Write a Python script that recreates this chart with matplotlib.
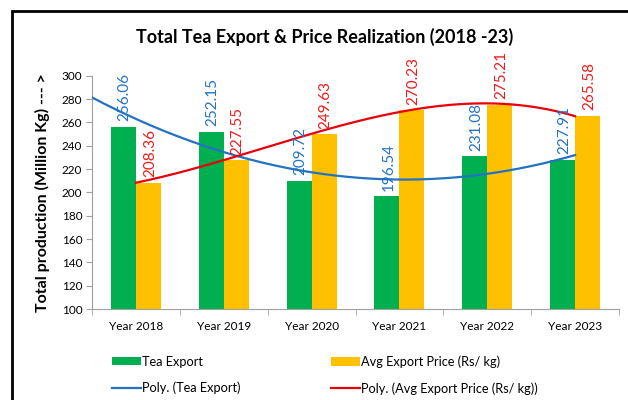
import matplotlib
matplotlib.use('Agg')
import matplotlib.pyplot as plt
from matplotlib.patches import Rectangle
import numpy as np

plt.rcParams['font.family'] = ['Lato', 'DejaVu Sans']

# 数据
years = ['Year 2018', 'Year 2019', 'Year 2020', 'Year 2021', 'Year 2022', 'Year 2023']
tea_export = [256.06, 252.15, 209.72, 196.54, 231.08, 227.91]
avg_price = [208.36, 227.55, 249.63, 270.23, 275.21, 265.58]
y_ticks = [100, 120, 140, 160, 180, 200, 220, 240, 260, 280, 300]

GREEN = '#00B050'
YELLOW = '#FFC000'
BLUE_LINE = '#2273C3'
RED_LINE = '#E8000B'
BLUE_TXT = '#2373C4'
RED_TXT = '#F01A1A'

fig = plt.figure(figsize=(6.28, 4.0), dpi=100)
ax = fig.add_axes([92 / 628, 1 - 309 / 400, (619 - 92) / 628, (309 - 75.7) / 400])

x = np.arange(len(years))
w = 0.285
bars_tea = ax.bar(x - w / 2, tea_export, w, color=GREEN, label='Tea Export', zorder=2)
bars_avg = ax.bar(x + w / 2, avg_price, w, color=YELLOW, label='Avg Export Price (Rs/ kg)', zorder=2)

# 趋势线 (Excel 多项式趋势线)
xn = x + 1
p_tea = np.polyfit(xn, tea_export, 2)
p_avg = np.polyfit(xn, avg_price, 3)
xt = np.linspace(0.5, 6, 200)
xa = np.linspace(1, 6, 200)
line_tea, = ax.plot(xt - 1, np.polyval(p_tea, xt), color=BLUE_LINE, lw=1.6, zorder=3,
                    label='Poly. (Tea Export)')
line_avg, = ax.plot(xa - 1, np.polyval(p_avg, xa), color=RED_LINE, lw=1.6, zorder=3,
                    label='Poly. (Avg Export Price (Rs/ kg))')

# 数据标签
for xi, v in zip(x - w / 2, tea_export):
    ax.annotate(f'{v:.2f}', xy=(xi, v), xytext=(1, 4), textcoords='offset points',
                rotation=90, ha='center', va='bottom', color=BLUE_TXT, fontsize=11, zorder=4)
for xi, v in zip(x + w / 2, avg_price):
    ax.annotate(f'{v:.2f}', xy=(xi, v), xytext=(1, 4), textcoords='offset points',
                rotation=90, ha='center', va='bottom', color=RED_TXT, fontsize=11, zorder=4)

ax.set_xlim(-0.5, len(years) - 0.5)
ax.set_ylim(100, 300)
ax.set_yticks(y_ticks)
ax.tick_params(axis='y', labelsize=8.5, length=4, color='#A0A0A0', pad=3)
ax.set_xticks(x)
ax.set_xticklabels(years, fontsize=8.5)
ax.tick_params(axis='x', length=0, pad=9)
ax.set_xticks(np.arange(len(years) + 1) - 0.5, minor=True)
ax.tick_params(axis='x', which='minor', length=4, color='#A0A0A0')

for s in ['top', 'right']:
    ax.spines[s].set_visible(False)
for s in ['left', 'bottom']:
    ax.spines[s].set_color('#A0A0A0')
    ax.spines[s].set_linewidth(0.8)

ax.set_ylabel('Total production (Million Kg) --- >', fontsize=11.5, fontweight='bold')
ax.yaxis.set_label_coords(-0.08, 0.5)

fig.text(325 / 628, 1 - 37 / 400, 'Total Tea Export & Price Realization (2018 -23)',
         ha='center', va='center', fontsize=13, fontweight='bold')

# 图例
leg1 = fig.legend(handles=[bars_tea, line_tea], loc='upper left',
                  bbox_to_anchor=(100 / 628, 1 - 344 / 400), frameon=False, fontsize=9.2,
                  handlelength=2.3, handleheight=0.6, handletextpad=0.1, labelspacing=1.1)
leg2 = fig.legend(handles=[bars_avg, line_avg], loc='upper left',
                  bbox_to_anchor=(319 / 628, 1 - 344 / 400), frameon=False, fontsize=9.2,
                  handlelength=2.3, handleheight=0.6, handletextpad=0.1, labelspacing=1.1)

# 外框
fig.patches.append(Rectangle((12 / 628, -0.05), 1.0, 1 - 11 / 400 + 0.05,
                             transform=fig.transFigure, fill=False, edgecolor='black',
                             linewidth=2))

plt.savefig('out.png', dpi=100)
plt.close()
